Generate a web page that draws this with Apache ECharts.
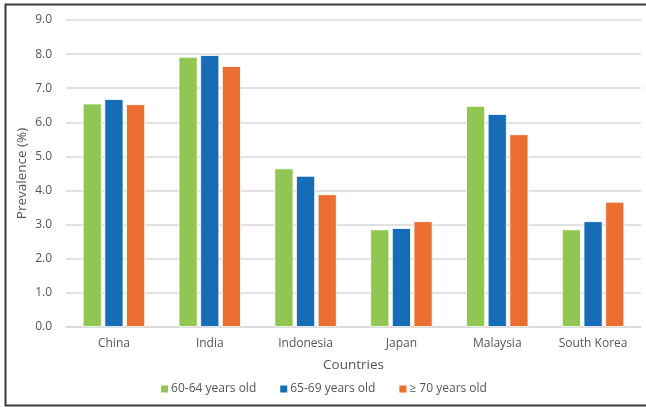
<!DOCTYPE html>
<html>
<head>
<meta charset="utf-8">
<script src="https://cdn.jsdelivr.net/npm/echarts@6/dist/echarts.min.js"></script>
<style>
  html, body { margin: 0; padding: 0; background: #fff; }
  #chart { width: 646px; height: 407px; }
</style>
</head>
<body>
<div id="chart"></div>
<script>
// Prevalence (%) by country and age group
const countries = ['China', 'India', 'Indonesia', 'Japan', 'Malaysia', 'South Korea'];
const age60to64 = [6.55, 7.92, 4.65, 2.86, 6.48, 2.86];
const age65to69 = [6.68, 7.97, 4.43, 2.90, 6.24, 3.10];
const age70plus = [6.53, 7.65, 3.89, 3.10, 5.65, 3.67];
const seriesNames = ['60-64 years old', '65-69 years old', '\u2265 70 years old'];
const seriesColors = ['#92c653', '#166db5', '#eb6f30'];

const FONT = '"Open Sans", "Noto Sans", sans-serif';
const TEXT = '#555555';

const chart = echarts.init(document.getElementById('chart'), null, { renderer: 'canvas' });

function barSeries(name, data, color) {
  return {
    name: name,
    type: 'bar',
    data: data,
    barWidth: 19,
    barGap: '14%',
    itemStyle: { color: color, borderColor: '#ffffff', borderWidth: 0.8 }
  };
}

chart.setOption({
  animation: false,
  backgroundColor: '#ffffff',
  textStyle: { fontFamily: FONT },
  graphic: [{
    type: 'rect',
    shape: { x: 5.5, y: 4.5, width: 660, height: 401 },
    style: { fill: 'none', stroke: '#3a3a3a', lineWidth: 2 },
    silent: true,
    z: 100
  }],
  grid: { left: 66, right: 5, top: 20, bottom: 80, containLabel: false },
  legend: {
    data: seriesNames,
    bottom: 7,
    left: 'center',
    itemWidth: 9,
    itemHeight: 9,
    itemGap: 22,
    icon: 'rect',
    textStyle: { color: TEXT, fontSize: 12, fontFamily: FONT, padding: [0, 0, 0, -3] }
  },
  xAxis: {
    type: 'category',
    data: countries,
    name: 'Countries',
    nameLocation: 'middle',
    nameGap: 31,
    nameMoveOverlap: false,
    nameTextStyle: { color: TEXT, fontSize: 13.5, fontFamily: FONT },
    axisLine: { lineStyle: { color: '#d9d9d9', width: 1.5 } },
    axisTick: { show: false },
    axisLabel: { color: TEXT, fontSize: 12, margin: 11, fontFamily: FONT }
  },
  yAxis: {
    type: 'value',
    min: 0,
    max: 9,
    interval: 1,
    name: 'Prevalence (%)',
    nameLocation: 'middle',
    nameGap: 37,
    nameMoveOverlap: false,
    nameRotate: 90,
    nameTextStyle: { color: TEXT, fontSize: 13.5, fontFamily: FONT },
    axisLine: { show: false },
    axisTick: { show: false },
    axisLabel: {
      color: TEXT,
      fontSize: 12,
      margin: 14,
      fontFamily: FONT,
      formatter: function (v) { return v.toFixed(1); }
    },
    splitLine: { lineStyle: { color: '#d9d9d9', width: 1.5 } }
  },
  series: [
    barSeries(seriesNames[0], age60to64, seriesColors[0]),
    barSeries(seriesNames[1], age65to69, seriesColors[1]),
    barSeries(seriesNames[2], age70plus, seriesColors[2])
  ]
});
</script>
</body>
</html>
